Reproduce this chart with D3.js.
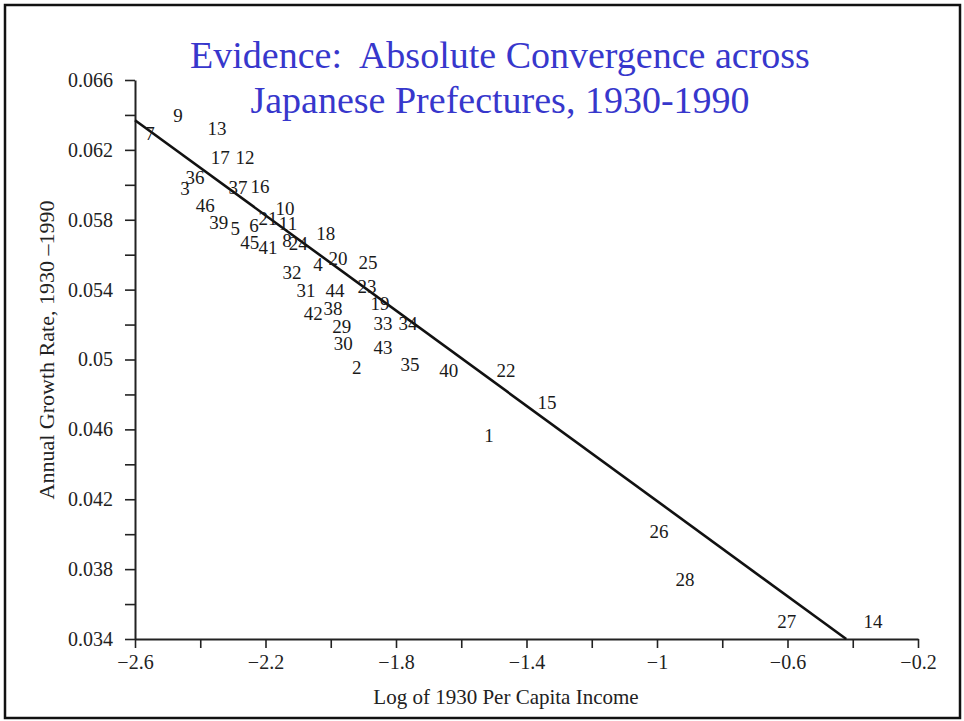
<!DOCTYPE html>
<head>
<meta charset="utf-8">
<title>Absolute Convergence across Japanese Prefectures</title>
<script src="https://cdn.jsdelivr.net/npm/d3@7"></script>
<style>
body { margin: 0; background: #fff; }
text { font-family: "Liberation Serif", "Times New Roman", serif; }
</style>
</head>
<body>
<script>
// prefecture numbers and their (log 1930 income, growth 1930-1990)
var prefecture = [1, 2, 3, 4, 5, 6, 7, 8, 9, 10, 11, 12, 13, 14, 15, 16, 17, 18, 19, 20, 21, 22, 23,
  24, 25, 26, 27, 28, 29, 30, 31, 32, 33, 34, 35, 36, 37, 38, 39, 40, 41, 42, 43, 44, 45, 46];
var logIncome = [-1.515, -1.920, -2.447, -2.039, -2.293, -2.235, -2.554, -2.134, -2.468, -2.140, -2.131,
  -2.263, -2.349, -0.338, -1.337, -2.217, -2.339, -2.015, -1.849, -1.978, -2.192, -1.463, -1.889,
  -2.100, -1.886, -0.994, -0.602, -0.914, -1.966, -1.962, -2.076, -2.119, -1.840, -1.763, -1.757,
  -2.416, -2.284, -1.993, -2.343, -1.638, -2.192, -2.054, -1.840, -1.987, -2.248, -2.385];
var growth = [0.04564, 0.04954, 0.05981, 0.05545, 0.05751, 0.05768, 0.06296, 0.05682, 0.06399, 0.05866,
  0.05780, 0.06158, 0.06325, 0.03503, 0.04753, 0.05992, 0.06158, 0.05723, 0.05321, 0.05579, 0.05809,
  0.04937, 0.05419, 0.05665, 0.05556, 0.04014, 0.03503, 0.03738, 0.05189, 0.05092, 0.05396, 0.05499,
  0.05206, 0.05206, 0.04971, 0.06044, 0.05986, 0.05292, 0.05786, 0.04937, 0.05642, 0.05264, 0.05069,
  0.05396, 0.05671, 0.05883];

// fitted line end points
var fitX = [-2.6, -0.42];
var fitY = [0.0637, 0.034];

var xTicks = [-2.6, -2.4, -2.2, -2.0, -1.8, -1.6, -1.4, -1.2, -1.0, -0.8, -0.6, -0.4, -0.2];
var xTickLabels = [-2.6, -2.2, -1.8, -1.4, -1, -0.6, -0.2];
var yTicks = [0.034, 0.036, 0.038, 0.040, 0.042, 0.044, 0.046, 0.048, 0.050, 0.052, 0.054,
  0.056, 0.058, 0.060, 0.062, 0.064, 0.066];
var yTickLabels = [0.034, 0.038, 0.042, 0.046, 0.05, 0.054, 0.058, 0.062, 0.066];

var title = ["Evidence:  Absolute Convergence across", "Japanese Prefectures, 1930-1990"];

var width = 964, height = 721;
var svg = d3.select("body").append("svg")
  .attr("width", width)
  .attr("height", height);

// frame
svg.append("rect")
  .attr("x", 5).attr("y", 5)
  .attr("width", 955).attr("height", 713)
  .attr("fill", "none")
  .attr("stroke", "#111")
  .attr("stroke-width", 2.5);

var x = d3.scaleLinear().domain([-2.6, -0.2]).range([135, 918]);
var y = d3.scaleLinear().domain([0.034, 0.066]).range([639, 80]);

function minus(v) { return String(v).replace("-", "\u2212"); }

svg.append("g")
  .attr("transform", "translate(0,639)")
  .call(d3.axisBottom(x).tickValues(xTicks).tickSizeInner(9).tickSizeOuter(0).tickPadding(7)
    .tickFormat(function(d) {
      var l = xTickLabels.find(function(v) { return Math.abs(v - d) < 1e-9; });
      return l === undefined ? "" : minus(l);
    }));

svg.append("g")
  .attr("transform", "translate(135,0)")
  .call(d3.axisLeft(y).tickValues(yTicks).tickSizeInner(10).tickSizeOuter(0).tickPadding(12)
    .tickFormat(function(d) {
      var l = yTickLabels.find(function(v) { return Math.abs(v - d) < 1e-9; });
      return l === undefined ? "" : String(l);
    }));

svg.selectAll(".domain").attr("stroke", "#222").attr("stroke-width", 2);
svg.selectAll(".tick line").attr("stroke", "#222").attr("stroke-width", 1.6);
svg.selectAll(".tick text")
  .attr("fill", "#222")
  .style("font-family", "'Liberation Serif', 'Times New Roman', serif")
  .style("font-size", "20px");

// axis titles
svg.append("text")
  .attr("x", 506).attr("y", 704)
  .attr("text-anchor", "middle")
  .attr("fill", "#222")
  .style("font-size", "21px")
  .text("Log of 1930 Per Capita Income");

svg.append("text")
  .attr("transform", "translate(54,350) rotate(-90)")
  .attr("text-anchor", "middle")
  .attr("fill", "#222")
  .style("font-size", "22px")
  .style("white-space", "pre")
  .text("Annual Growth Rate, 1930 \u20131990");

// fitted line
svg.append("line")
  .attr("x1", x(fitX[0])).attr("y1", y(fitY[0]))
  .attr("x2", x(fitX[1])).attr("y2", y(fitY[1]))
  .attr("stroke", "#111")
  .attr("stroke-width", 2.6);

// prefecture labels
svg.selectAll("text.pref")
  .data(prefecture).enter().append("text")
  .attr("class", "pref")
  .attr("x", function(d, i) { return x(logIncome[i]); })
  .attr("y", function(d, i) { return y(growth[i]); })
  .attr("text-anchor", "middle")
  .attr("dominant-baseline", "central")
  .attr("fill", "#1a1a1a")
  .style("font-size", "19px")
  .text(function(d) { return d; });

// title
svg.selectAll("text.title")
  .data(title).enter().append("text")
  .attr("class", "title")
  .attr("x", 500)
  .attr("y", function(d, i) { return 68 + i * 45; })
  .attr("text-anchor", "middle")
  .attr("fill", "#3737cc")
  .style("font-size", "38px")
  .style("white-space", "pre")
  .text(function(d) { return d; });
</script>
</body>
